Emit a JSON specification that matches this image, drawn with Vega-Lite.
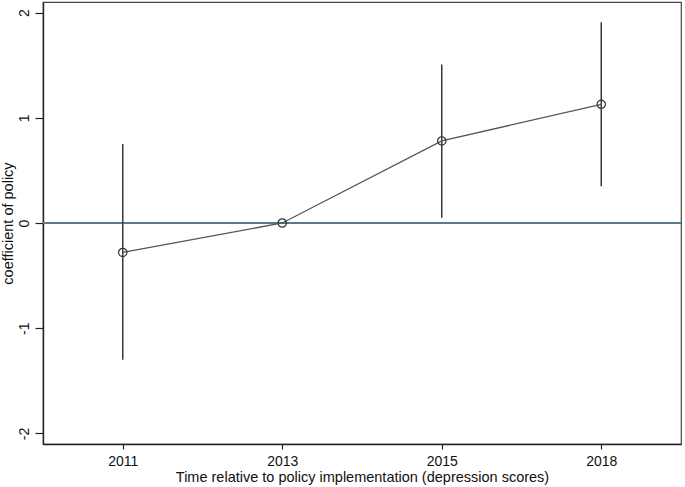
{
  "$schema": "https://vega.github.io/schema/vega-lite/v6.json",
  "autosize": "none",
  "width": 638,
  "height": 442,
  "padding": {"left": 43, "top": 2, "right": 4, "bottom": 43},
  "background": "white",
  "config": {
    "font": "Liberation Sans",
    "view": {"stroke": "#444444", "strokeWidth": 1.2},
    "axis": {
      "domainColor": "#222222",
      "domainWidth": 1.4,
      "tickColor": "#222222",
      "tickWidth": 1.2,
      "labelColor": "#111111",
      "titleColor": "#111111",
      "labelFont": "Liberation Sans",
      "titleFont": "Liberation Sans",
      "labelFontSize": 14,
      "titleFontSize": 14.5,
      "titleFontWeight": "normal",
      "grid": false
    }
  },
  "data": {
    "values": [
      {"year": "2011", "coef": -0.28, "lo": -1.30, "hi": 0.75},
      {"year": "2013", "coef": 0.0, "lo": null, "hi": null},
      {"year": "2015", "coef": 0.78, "lo": 0.05, "hi": 1.505},
      {"year": "2018", "coef": 1.128, "lo": 0.35, "hi": 1.908}
    ]
  },
  "encoding": {
    "x": {
      "field": "year",
      "type": "ordinal",
      "scale": {"type": "point", "padding": 0.5},
      "axis": {
        "title": "Time relative to policy implementation (depression scores)",
        "labelAngle": 0,
        "tickSize": 5,
        "labelPadding": 5,
        "titlePadding": 2
      }
    }
  },
  "layer": [
    {
      "mark": {"type": "rule", "color": "#5b7a8e", "strokeWidth": 1.3},
      "encoding": {"x": null, "y": {"datum": 0, "type": "quantitative"}}
    },
    {
      "transform": [{"filter": "datum.lo != null"}],
      "mark": {"type": "rule", "color": "#3a3a3a", "strokeWidth": 1.5},
      "encoding": {
        "y": {"field": "lo", "type": "quantitative"},
        "y2": {"field": "hi"}
      }
    },
    {
      "mark": {"type": "line", "color": "#555555", "strokeWidth": 1.3},
      "encoding": {
        "y": {
          "field": "coef",
          "type": "quantitative",
          "scale": {"domain": [-2.1, 2.1], "nice": false, "zero": false},
          "axis": {
            "title": "coefficient of policy",
            "values": [-2, -1, 0, 1, 2],
            "labelExpr": "datum.value < 0 ? '-' + abs(datum.value) : '' + datum.value",
            "labelAngle": -90,
            "labelAlign": "center",
            "labelBaseline": "bottom",
            "tickSize": 8,
            "labelPadding": 4,
            "titlePadding": 2
          }
        }
      }
    },
    {
      "mark": {"type": "point", "shape": "circle", "filled": false, "color": "#333333", "strokeWidth": 1.2, "size": 70, "opacity": 1},
      "encoding": {
        "y": {"field": "coef", "type": "quantitative"}
      }
    }
  ]
}
